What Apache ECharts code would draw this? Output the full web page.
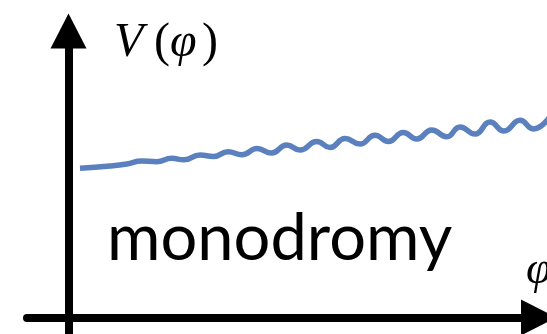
<!DOCTYPE html>
<html>
<head>
<meta charset="utf-8">
<script src="https://cdn.jsdelivr.net/npm/echarts@6/dist/echarts.min.js"></script>
<style>
html,body{margin:0;padding:0;background:#fff;}
#chart{width:547px;height:334px;}
</style>
</head>
<body>
<div id="chart"></div>
<script>
// field value phi (horizontal) and potential V (vertical)
var phi = [11.5, 41.5, 58.2, 73.2, 88.2, 103.2, 115.5, 131.5, 145, 159.5, 173.5, 188.5, 203.2, 218.2, 231.5, 248.2, 261.5, 276.5, 291.5, 306.5, 319.8, 334.8, 348.2, 363.2, 378.2, 391.5, 406.5, 421.5, 435.5, 451.5, 464.8, 481.5];
var V   = [149.2, 151.5, 153.5, 156.5, 155.8, 159.2, 157.7, 162.5, 161, 165.7, 162.7, 169, 164.5, 172.6, 167.4, 176, 170, 179, 173.4, 182.3, 176, 185, 178.4, 187.6, 180.7, 190.6, 183.4, 195.4, 186.4, 197.2, 188.6, 201];
var xRange = [-41.5, 487.5];
var yRange = [-16.5, 286.5];
var xLabel = 'φ';
var caption = 'monodromy';

var series = phi.map(function (p, i) { return [p, V[i]]; });

var chart = echarts.init(document.getElementById('chart'), null, {renderer: 'canvas'});
function axis(range, offset) {
  return {
    type: 'value',
    min: range[0], max: range[1],
    axisLine: {
      show: true, onZero: true,
      symbol: ['none', 'triangle'],
      symbolSize: [36, 35],
      symbolOffset: [0, offset],
      lineStyle: {color: '#000', width: 8}
    },
    axisTick: {show: false},
    axisLabel: {show: false},
    splitLine: {show: false}
  };
}
chart.setOption({
  animation: false,
  backgroundColor: '#fff',
  grid: {left: 27, right: -9, top: 31, bottom: 0, containLabel: false, outerBoundsMode: 'none'},
  xAxis: axis(xRange, -17.5),
  yAxis: axis(yRange, 0),
  series: [{
    type: 'line',
    data: series,
    smooth: 0.5,
    showSymbol: false,
    clip: false,
    lineStyle: {color: '#5a80bd', width: 5.5}
  }],
  graphic: [
    {
      type: 'text', left: 114, top: 19,
      style: {
        text: '{v|V}{p|(}{f|φ}{q|)}',
        rich: {
          v: {fontFamily: 'Liberation Serif', fontStyle: 'italic', fontSize: 48, fill: '#000', width: 40},
          p: {fontFamily: 'Liberation Serif', fontSize: 48, fill: '#000', width: 16},
          f: {fontFamily: 'Liberation Serif', fontStyle: 'italic', fontSize: 48, fill: '#000', width: 32},
          q: {fontFamily: 'Liberation Serif', fontSize: 48, fill: '#000'}
        }
      }
    },
    {
      type: 'text', left: 526, top: 248,
      style: {text: xLabel, fontFamily: 'Liberation Serif', fontStyle: 'italic', fontSize: 46, fill: '#000'}
    },
    {
      type: 'text', left: 107, top: 207,
      style: {text: caption, fontFamily: 'Lato', fontSize: 65, fill: '#000'}
    }
  ]
});
</script>
</body>
</html>
